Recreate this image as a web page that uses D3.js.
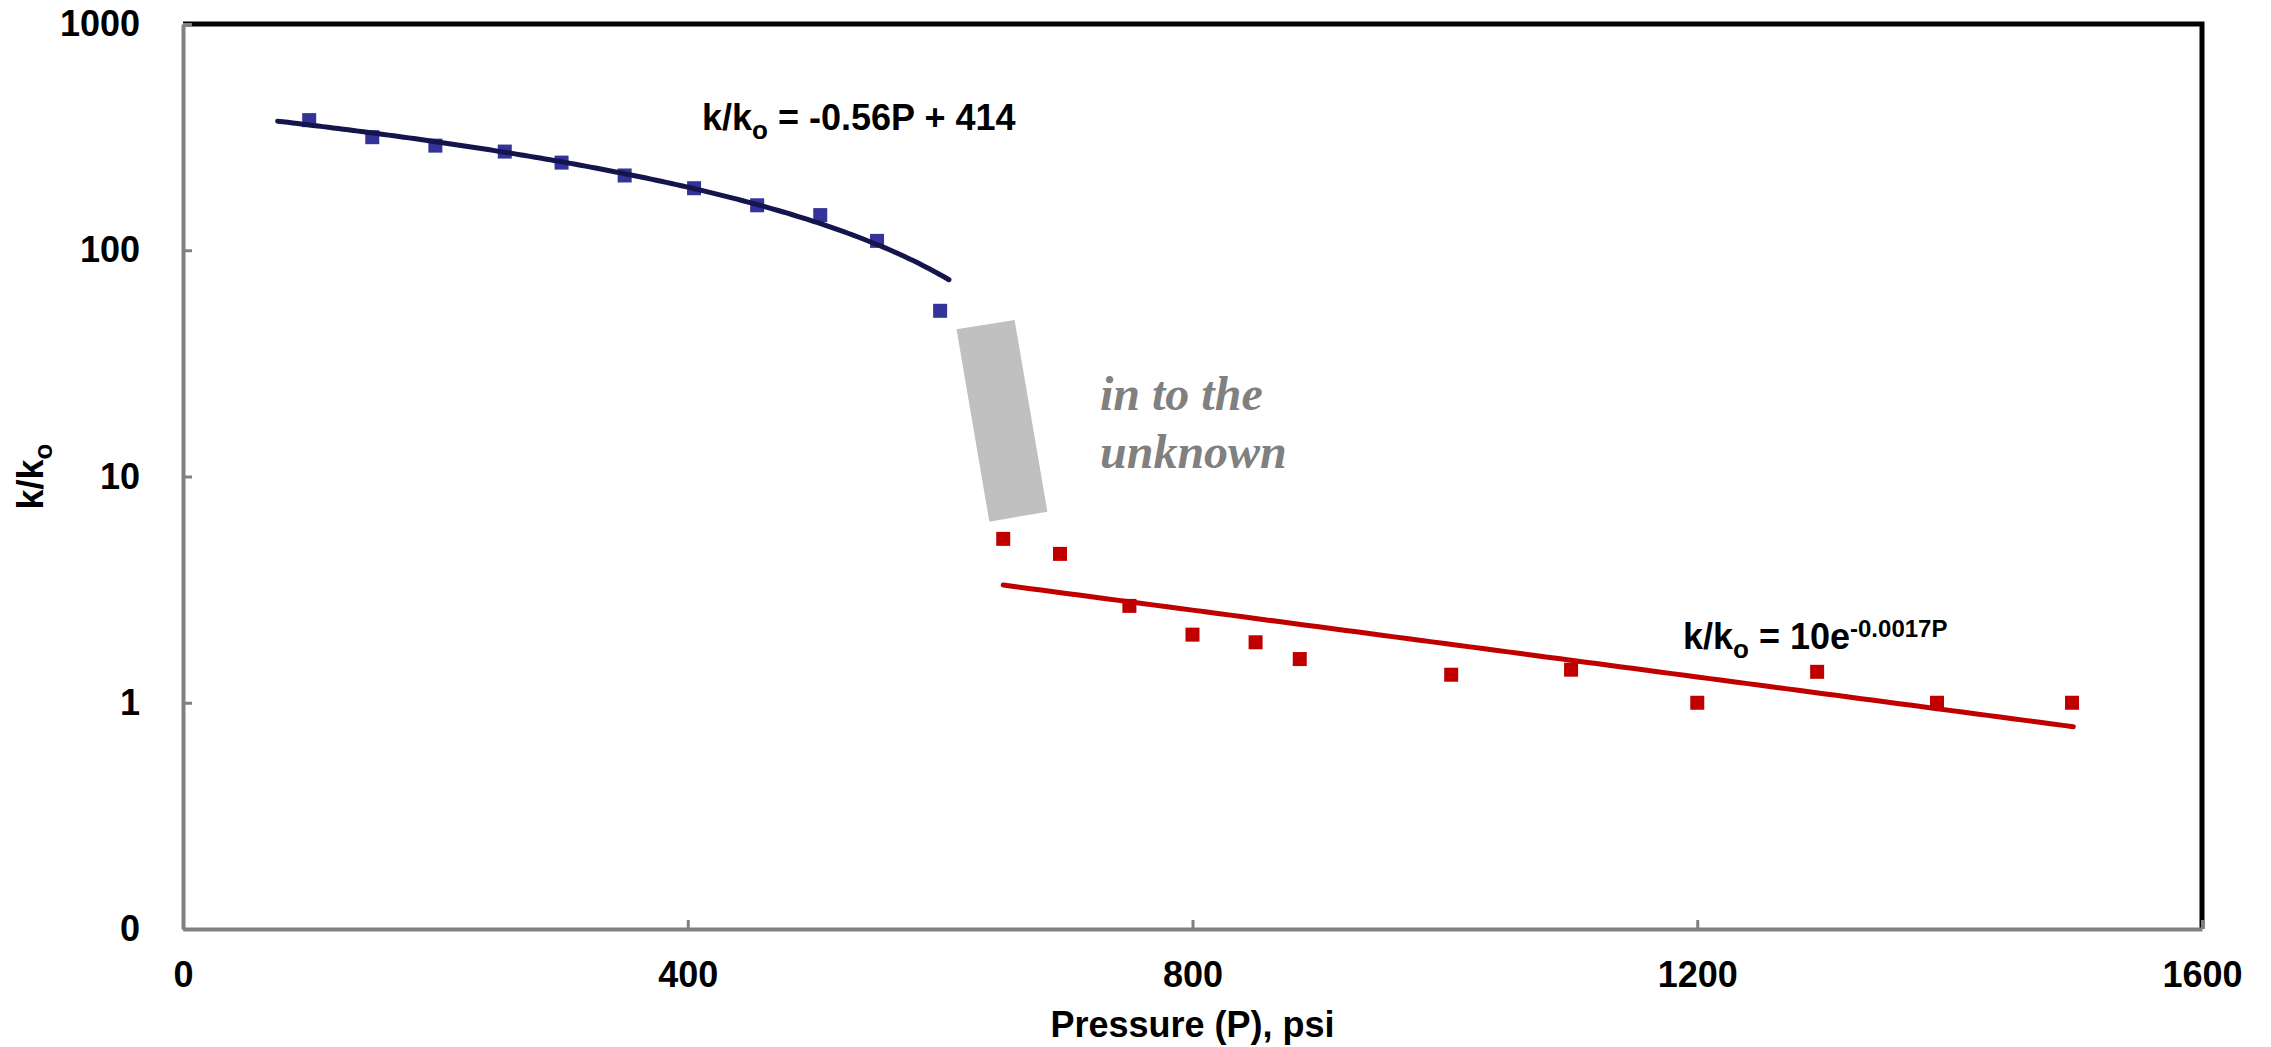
<!DOCTYPE html>
<html>
<head>
<meta charset="utf-8">
<script src="https://cdn.jsdelivr.net/npm/d3@7"></script>
<style>
  html, body { margin: 0; padding: 0; background: #fff; }
  svg { display: block; }
  text { font-family: "Liberation Sans", Arial, sans-serif; font-weight: bold; fill: #000; }
</style>
</head>
<body>
<script>
// Permeability ratio vs pressure: measured points and fitted trends
const bluePressure = [100, 150, 200, 255, 300, 350, 405, 455, 505, 550, 600];
const blueRatio    = [376, 316, 290, 273, 244, 214, 188, 158, 143, 110, 54];

const redPressure  = [650, 695, 750, 800, 850, 885, 1005, 1100, 1200, 1295, 1390, 1497];
const redRatio     = [5.3, 4.55, 2.68, 2.0, 1.85, 1.56, 1.33, 1.4, 1.0, 1.37, 1.0, 1.0];

// Fitted trends: linear (upper branch) and exponential (lower branch)
const linearFit = { slope: -0.56, intercept: 414, from: 75, to: 607 };
const expFit    = { a: 10, b: -0.0017, from: 650, to: 1498 };

// Shaded transition zone, corners given as [pressure, ratio]
const gapZone = [[613, 44.7], [659, 49.2], [685, 6.99], [639, 6.31]];

const xTicks = [0, 400, 800, 1200, 1600];
const xTickLabels = ["0", "400", "800", "1200", "1600"];
const yTicks = [0.1, 1, 10, 100, 1000];
const yTickLabels = ["0", "1", "10", "100", "1000"];

const W = 2271, H = 1047;
const plot = { left: 183, right: 2202, top: 24, bottom: 929 };

const svg = d3.select("body").append("svg").attr("width", W).attr("height", H);

const x = d3.scaleLinear().domain([0, 1600]).range([plot.left, plot.right]);
const y = d3.scaleLog().domain([0.1, 1000]).range([plot.bottom, plot.top]);

// transition zone
svg.append("polygon")
  .attr("points", gapZone.map(d => [x(d[0]), y(d[1])].join(",")).join(" "))
  .attr("fill", "#c0c0c0");

// markers
const sq = 14;
const blue = bluePressure.map((p, i) => ({ p, r: blueRatio[i] }));
const red = redPressure.map((p, i) => ({ p, r: redRatio[i] }));

svg.append("g").selectAll("rect").data(blue).join("rect")
  .attr("x", d => x(d.p) - sq / 2).attr("y", d => y(d.r) - sq / 2)
  .attr("width", sq).attr("height", sq).attr("fill", "#333399");

svg.append("g").selectAll("rect").data(red).join("rect")
  .attr("x", d => x(d.p) - sq / 2).attr("y", d => y(d.r) - sq / 2)
  .attr("width", sq).attr("height", sq).attr("fill", "#c00000");

// trend lines
const line = d3.line().x(d => x(d[0])).y(d => y(d[1]));
const linPts = d3.range(linearFit.from, linearFit.to, 4).concat([linearFit.to])
  .map(p => [p, linearFit.slope * p + linearFit.intercept]);
svg.append("path").attr("d", line(linPts))
  .attr("fill", "none").attr("stroke", "#15154d").attr("stroke-width", 5)
  .attr("stroke-linecap", "round");

const expPts = d3.range(expFit.from, expFit.to, 10).concat([expFit.to])
  .map(p => [p, expFit.a * Math.exp(expFit.b * p)]);
svg.append("path").attr("d", line(expPts))
  .attr("fill", "none").attr("stroke", "#c00000").attr("stroke-width", 5)
  .attr("stroke-linecap", "round");

// frame: top and right in black
svg.append("path")
  .attr("d", `M${plot.left},${plot.top}H${plot.right}V${plot.bottom}`)
  .attr("fill", "none").attr("stroke", "#000").attr("stroke-width", 5);

// axes
const yAxis = d3.axisLeft(y).tickValues(yTicks)
  .tickFormat((d, i) => yTickLabels[i]).tickSize(-9).tickSizeOuter(0).tickPadding(43);
const gy = svg.append("g").attr("transform", `translate(${plot.left},0)`).call(yAxis);

const xAxis = d3.axisBottom(x).tickValues(xTicks)
  .tickFormat((d, i) => xTickLabels[i]).tickSize(-9).tickSizeOuter(0).tickPadding(32);
const gx = svg.append("g").attr("transform", `translate(0,${plot.bottom})`).call(xAxis);

[gx, gy].forEach(g => {
  g.select(".domain").attr("stroke", "#808080").attr("stroke-width", 4);
  g.selectAll(".tick line").attr("stroke", "#808080").attr("stroke-width", 3);
  g.selectAll(".tick text")
    .style("fill", "#000")
    .style("font-family", '"Liberation Sans", Arial, sans-serif')
    .style("font-weight", "bold")
    .style("font-size", "36px");
});

// axis titles
svg.append("text")
  .attr("x", (plot.left + plot.right) / 2).attr("y", 1037)
  .attr("text-anchor", "middle").style("font-size", "36px")
  .text("Pressure (P), psi");

const yt = svg.append("text")
  .attr("transform", `translate(43,${y(10)}) rotate(-90)`)
  .attr("text-anchor", "middle").style("font-size", "36px");
yt.append("tspan").text("k/k");
yt.append("tspan").attr("dy", 9).style("font-size", "26px").text("o");

// fit equations
const eq1 = svg.append("text").attr("x", 702).attr("y", 130).style("font-size", "36px");
eq1.append("tspan").text("k/k");
eq1.append("tspan").attr("dy", 9).style("font-size", "26px").text("o");
eq1.append("tspan").attr("dy", -9).text(" = -0.56P + 414");

const eq2 = svg.append("text").attr("x", 1683).attr("y", 649).style("font-size", "36px");
eq2.append("tspan").text("k/k");
eq2.append("tspan").attr("dy", 9).style("font-size", "26px").text("o");
eq2.append("tspan").attr("dy", -9).text(" = 10e");
eq2.append("tspan").attr("dy", -12).style("font-size", "24px").text("-0.0017P");

// annotation
const note = svg.append("text")
  .style("font-family", '"Liberation Serif", "Times New Roman", serif')
  .style("font-style", "italic").style("font-weight", "bold")
  .style("font-size", "48px").style("fill", "#808080");
note.append("tspan").attr("x", 1100).attr("y", 410).text("in to the");
note.append("tspan").attr("x", 1100).attr("y", 468).text("unknown");
</script>
</body>
</html>
